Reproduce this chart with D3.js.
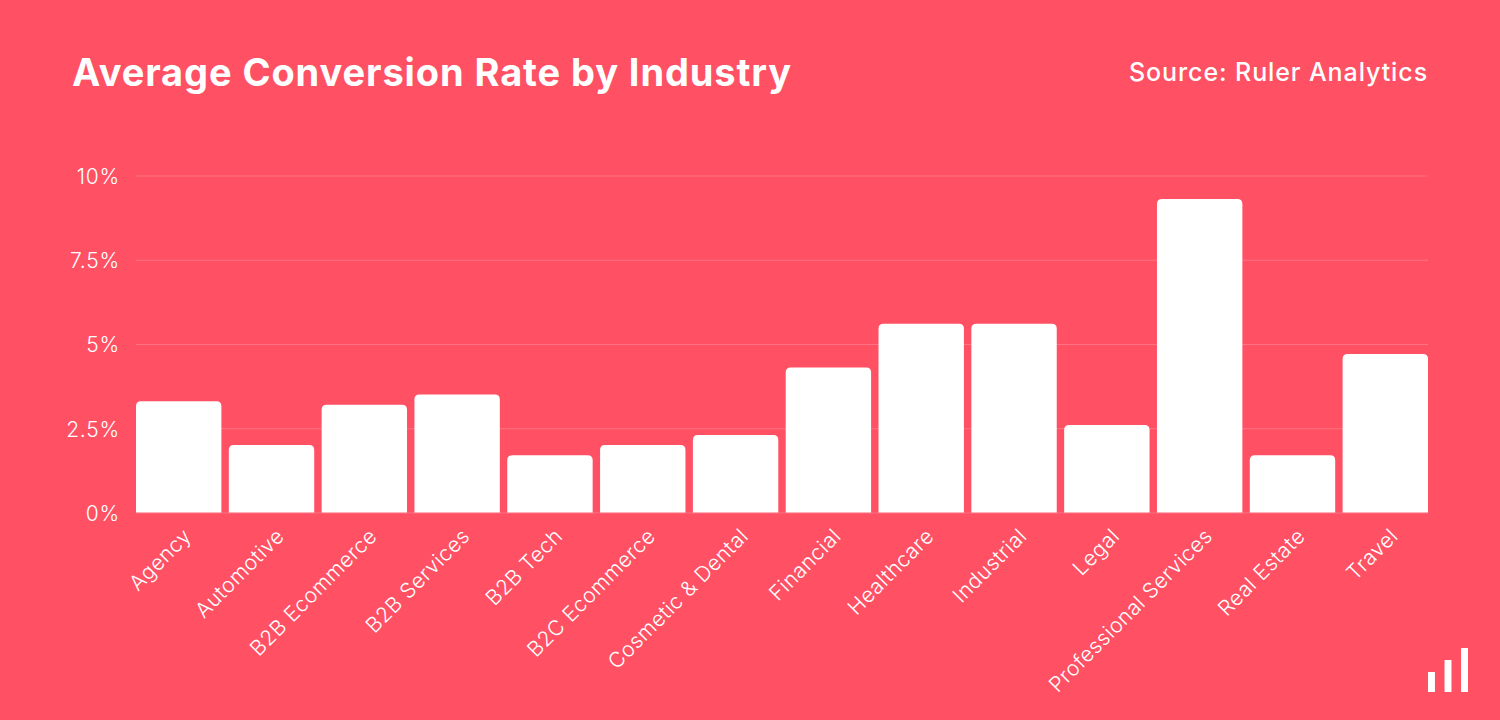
<!DOCTYPE html>
<html>
<head>
<meta charset="utf-8">
<script src="https://cdn.jsdelivr.net/npm/d3@7"></script>
<style>
    html, body { margin: 0; padding: 0; background: #ff5064; overflow: hidden; }
    text { font-family: Inter, sans-serif; fill: #fff; }
</style>
</head>
<body>
<svg id="chart"></svg>
<script>
const categories = ['Agency', 'Automotive', 'B2B Ecommerce', 'B2B Services', 'B2B Tech', 'B2C Ecommerce',
    'Cosmetic & Dental', 'Financial', 'Healthcare', 'Industrial', 'Legal', 'Professional Services',
    'Real Estate', 'Travel'];
const rates = [3.3, 2.0, 3.2, 3.5, 1.7, 2.0, 2.3, 4.3, 5.6, 5.6, 2.6, 9.3, 1.7, 4.7];
const yTicks = [0, 2.5, 5, 7.5, 10];
const logoBars = [20, 32, 44];

const width = 1500, height = 720;
const margin = { top: 175.5, right: 72, bottom: 207.5, left: 136 };

const svg = d3.select('#chart').attr('width', width).attr('height', height);

svg.append('text')
    .attr('x', 72).attr('y', 86)
    .style('font-size', '38px').style('font-weight', 700).style('letter-spacing', '0.9px')
    .text('Average Conversion Rate by Industry');

svg.append('text')
    .attr('x', 1428).attr('y', 81)
    .attr('text-anchor', 'end')
    .style('font-size', '25px').style('font-weight', 500).style('letter-spacing', '0.9px')
    .text('Source: Ruler Analytics');

const x = d3.scaleBand()
    .domain(categories)
    .range([margin.left, width - margin.right])
    .paddingInner(0.08);

const y = d3.scaleLinear()
    .domain([0, 10])
    .range([height - margin.bottom, margin.top]);

// gridlines come from the left axis with long ticks
const yAxis = svg.append('g')
    .attr('transform', `translate(${margin.left},0)`)
    .call(d3.axisLeft(y)
        .tickValues(yTicks)
        .tickFormat(d => d + '%')
        .tickSize(-(width - margin.left - margin.right))
        .tickPadding(16));
yAxis.select('.domain').remove();
yAxis.selectAll('line').attr('stroke', '#fff').attr('stroke-opacity', 0.2);
yAxis.selectAll('text')
    .style('font-size', '21px').style('font-weight', 300).style('letter-spacing', '0.8px')
    .attr('dy', '0.37em');

const radius = 5;
svg.selectAll('.bar')
    .data(rates)
    .enter().append('path')
    .attr('class', 'bar')
    .attr('fill', '#fff')
    .attr('d', (d, i) => {
        const left = x(categories[i]);
        const right = left + x.bandwidth();
        const top = y(d);
        const base = y(0);
        return `M${left},${base}V${top + radius}Q${left},${top} ${left + radius},${top}`
            + `H${right - radius}Q${right},${top} ${right},${top + radius}V${base}Z`;
    });

const xAxis = svg.append('g')
    .attr('transform', `translate(0,${height - margin.bottom})`)
    .call(d3.axisBottom(x).tickSize(0).tickPadding(0));
xAxis.select('.domain').remove();
xAxis.selectAll('text')
    .style('font-size', '21px').style('font-weight', 300).style('letter-spacing', '0.5px')
    .attr('text-anchor', 'end')
    .attr('dy', null)
    .attr('y', 0)
    .attr('transform', 'translate(14,25) rotate(-45)');

// small bars mark in the corner
const logoX = d3.scaleBand().domain(logoBars).range([1428, 1468]).paddingInner(0.58);
svg.append('g').selectAll('rect')
    .data(logoBars)
    .enter().append('rect')
    .attr('x', d => logoX(d))
    .attr('y', d => 692 - d)
    .attr('width', logoX.bandwidth())
    .attr('height', d => d)
    .attr('fill', '#fff');
</script>
</body>
</html>
